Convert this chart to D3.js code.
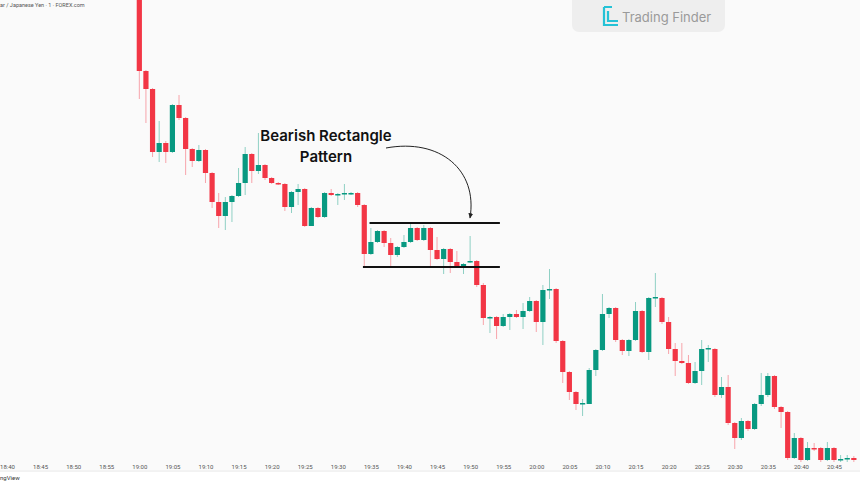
<!DOCTYPE html>
<html><head><meta charset="utf-8">
<script src="https://cdn.jsdelivr.net/npm/d3@7"></script>
<style>body{margin:0;background:#fff}svg{display:block}</style>
</head><body><svg id="c" width="860" height="484"></svg>
<script>
// candle data: [open, close, high, low] in chart level units (higher = lower price)
const candlesRaw = [[0,71,0,99],[71,89,70,123],[89,152,88,157],[152,143,121,162],[143,152,141,163],[152,105,104,153],[105,118,95,120],[118,149,117,175],[149,161,148,167],[161,150,145,162],[150,173,149,183],[173,202,172,208],[202,216,193,228],[216,202,197,230],[202,196,195,222],[196,183,168,197],[183,154,147,195],[154,171,153,183],[171,165,133,174],[165,178,164,180],[178,183,177,184],[183,184,182,185],[184,207,183,211],[207,192,191,213],[192,189,184,205],[189,226,188,227],[226,208,207,224],[208,217,207,218],[217,193,192,218],[193,195,189,196],[195,194,193,205],[194,193,184,200],[194,193,192,195],[193,205,192,207],[205,254,204,267],[254,242,228,255],[242,231,230,243],[231,243,230,247],[243,255,238,268],[255,247,246,257],[247,242,235,248],[242,228,224,243],[228,240,227,241],[240,228,225,241],[228,250,227,267],[250,259,237,260],[259,249,248,274],[249,262,248,273],[262,267,251,268],[267,264,263,274],[262,261,236,263],[261,285,260,287],[285,318,283,325],[318,317,316,333],[317,326,316,339],[326,317,314,327],[317,314,313,330],[314,317,310,318],[317,311,303,329],[311,301,297,312],[301,322,300,332],[322,290,285,345],[290,289,269,299],[289,341,288,343],[341,372,340,383],[372,392,371,400],[392,404,391,410],[404,403,399,416],[404,370,368,376],[370,350,349,376],[350,314,294,351],[314,308,307,318],[308,340,307,342],[340,351,339,355],[351,340,339,356],[340,311,302,341],[311,352,310,353],[352,298,297,360],[298,297,273,307],[298,322,297,324],[322,349,317,354],[349,361,343,376],[361,363,343,364],[363,383,355,384],[383,371,362,384],[371,349,340,385],[349,348,345,362],[349,395,348,397],[395,387,377,398],[387,423,375,425],[423,438,422,449],[438,421,418,440],[421,429,420,431],[429,404,403,430],[404,395,373,406],[395,376,373,397],[376,407,375,409],[407,412,406,428],[412,458,411,460],[458,438,433,459],[438,460,437,462],[460,448,442,461],[448,449,443,451],[448,460,447,462],[460,448,442,461],[448,460,447,462],[460,459,455,462],[459,458,455,462],[458,460,456,462]];
const firstMinute = 20; // 19:00 relative to 18:40
const tickLabels = ["18:40","18:45","18:50","18:55","19:00","19:05","19:10","19:15","19:20","19:25","19:30","19:35","19:40","19:45","19:50","19:55","20:00","20:05","20:10","20:15","20:20","20:25","20:30","20:35","20:40","20:45"];
const rectTop = 223, rectBottom = 267; // levels in same units
const rectStartTop = 34.8, rectStartBottom = 33.8, rectEnd = 54.5; // candle indices

const svg = d3.select("#c");
svg.append("rect").attr("width",860).attr("height",470).attr("fill","#fafafa");
const x = d3.scaleLinear().domain([0,125]).range([7,834]);
const y = d3.scaleLinear().domain([0,470]).range([0,470]);
const cx = i => x(firstMinute + i);
const up = d => d[1] < d[0];
const g = svg.append("g");
const c = g.selectAll("g").data(candlesRaw).join("g");
const col = d => up(d) ? "#089981" : "#f23645";
c.append("line").attr("x1",(d,i)=>cx(i)).attr("x2",(d,i)=>cx(i))
  .attr("y1",d=>y(d[2])).attr("y2",d=>y(d[3])).attr("stroke",d=>up(d)?"#8fd0c4":"#f7a4ab").attr("stroke-width",1);
c.append("rect").attr("x",(d,i)=>cx(i)-2.6).attr("width",5.2)
  .attr("y",d=>y(Math.min(d[0],d[1]))).attr("height",d=>Math.max(1.5,y(Math.abs(d[1]-d[0]))-y(0)))
  .attr("fill",col);

// axis
const axis = d3.axisBottom(x).tickValues(d3.range(0,126,5)).tickFormat((d,i)=>tickLabels[i]).tickSize(0);
const ag = svg.append("g").attr("transform","translate(0,462)").call(axis);
ag.select(".domain").remove();
ag.selectAll("text").attr("font-family","Roboto").attr("font-size",6).attr("fill","#555");
svg.append("line").attr("x1",0).attr("x2",860).attr("y1",471).attr("y2",471).attr("stroke","#e6e6e6");
svg.append("text").attr("x",0).attr("y",480).attr("font-family","Roboto").attr("font-size",6).attr("fill","#333").text("ngView");
svg.append("text").attr("x",0).attr("y",7).attr("font-family","Roboto").attr("font-size",5.5).attr("fill","#555").text("ar / Japanese Yen · 1 · FOREX.com");

// rectangle
svg.append("line").attr("x1",cx(rectStartTop)).attr("x2",cx(rectEnd)).attr("y1",y(rectTop)).attr("y2",y(rectTop)).attr("stroke","#111").attr("stroke-width",2);
svg.append("line").attr("x1",cx(rectStartBottom)).attr("x2",cx(rectEnd)).attr("y1",y(rectBottom)).attr("y2",y(rectBottom)).attr("stroke","#111").attr("stroke-width",2);

// label
const t = svg.append("text").attr("font-family","Inter, Roboto").attr("font-weight",600).attr("font-size",15).attr("fill","#111").attr("text-anchor","middle");
t.append("tspan").attr("x",326).attr("y",141).text("Bearish Rectangle");
t.append("tspan").attr("x",326).attr("y",162).text("Pattern");
svg.append("defs").append("marker").attr("id","ah").attr("viewBox","0 0 10 10").attr("refX",8).attr("refY",5)
  .attr("markerWidth",6).attr("markerHeight",6).attr("orient","auto").append("path").attr("d","M0,1 L9,5 L0,9 Z").attr("fill","#222");
svg.append("path").attr("d","M386,148 C440,138 478,170 470,218").attr("fill","none").attr("stroke","#222").attr("stroke-width",1).attr("marker-end","url(#ah)");

// logo
svg.append("rect").attr("x",572).attr("y",-6).attr("width",153).attr("height",38).attr("rx",7).attr("fill","#eeeeee");
const lg = svg.append("g").attr("transform","translate(604,7)");
lg.append("path").attr("d","M0,0 L0,18 L14,18 M4,4 L4,14 L14,14 M0,0 L8,0").attr("fill","none").attr("stroke","#25c2d6").attr("stroke-width",2.2);
svg.append("text").attr("x",622).attr("y",22).attr("font-family","Inter, Roboto").attr("font-size",13).attr("fill","#9a9a9a").text("Trading Finder");
</script></body></html>
